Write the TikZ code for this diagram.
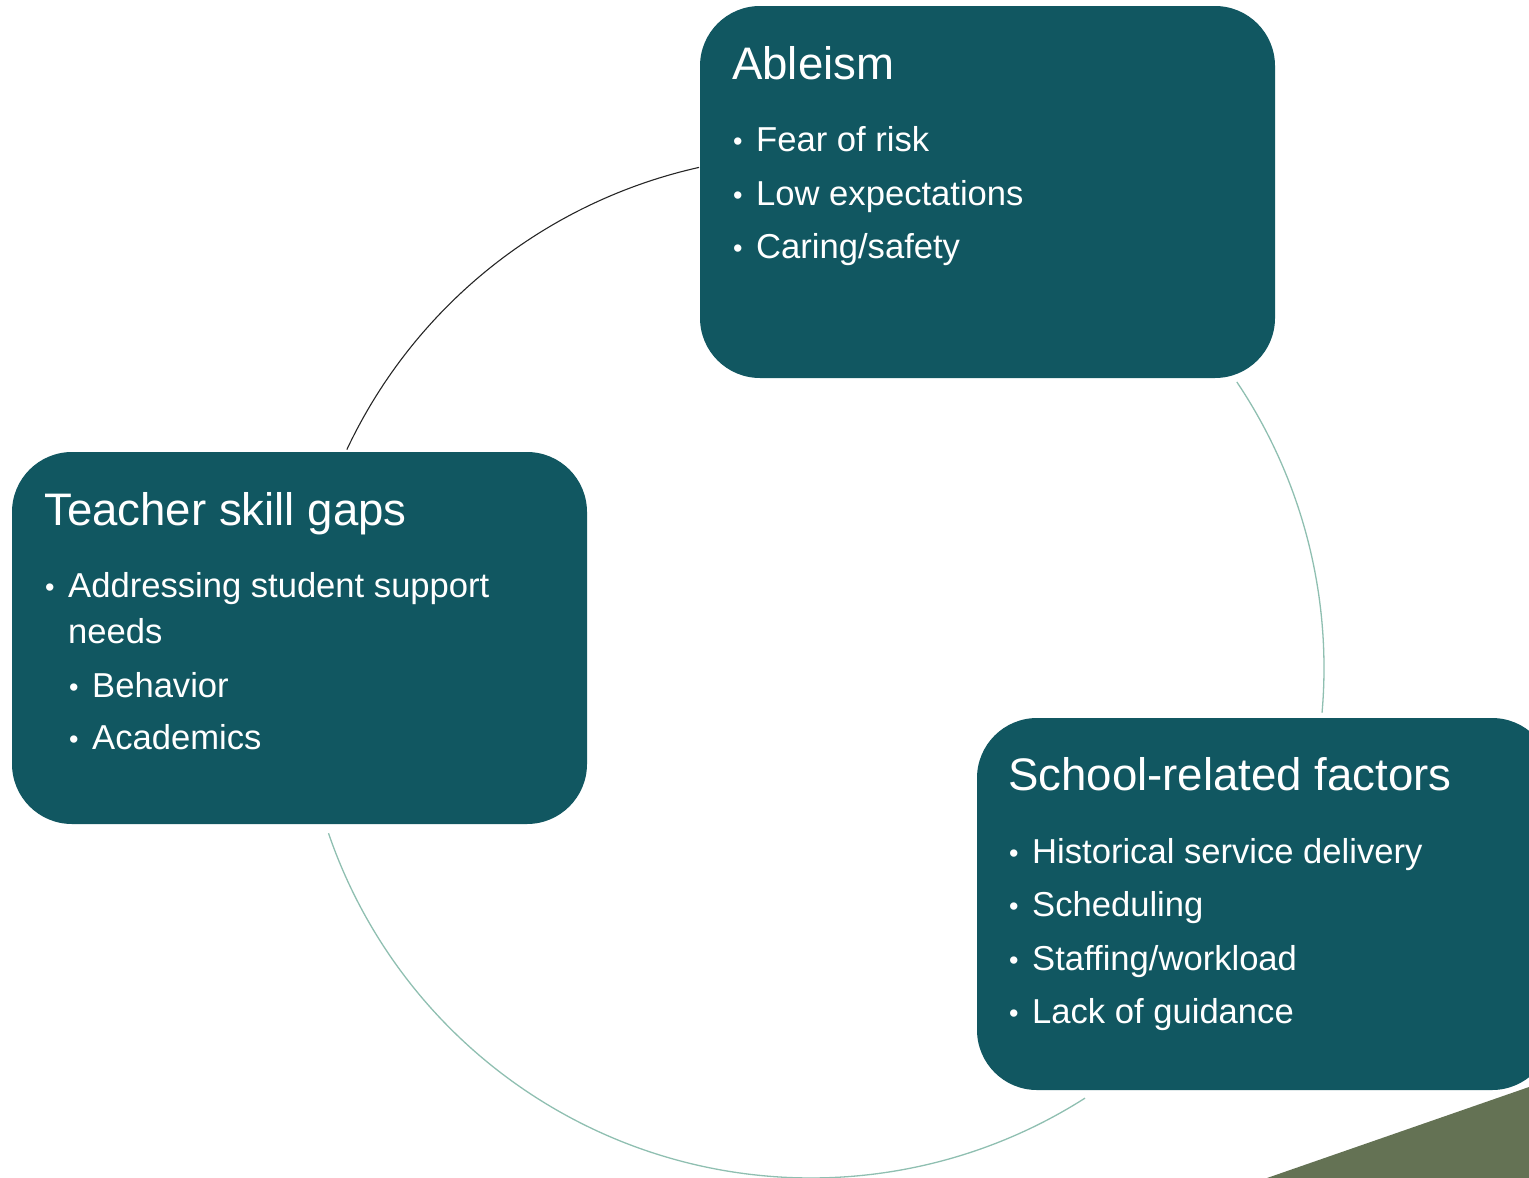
\documentclass[tikz,border=0pt]{standalone}
\usepackage{fontspec}
\setmainfont{Liberation Sans}
\definecolor{boxteal}{HTML}{115761}
\definecolor{ringgreen}{HTML}{8FBFB1}
\definecolor{wedgegreen}{HTML}{647254}

\tikzset{
  box/.style={fill=boxteal, rounded corners=60pt, minimum width=575pt,
    minimum height=372pt, inner sep=0pt},
  head/.style={anchor=base west, inner sep=0pt, text=white,
    font=\fontsize{45.6}{54}\selectfont},
  item/.style={anchor=base west, inner sep=0pt, text=white,
    font=\fontsize{34.6}{40}\selectfont},
  ring/.style={line width=1.3pt, draw=ringgreen},
}
\newcommand{\bul}[1]{\makebox[23pt][l]{\fontsize{27}{27}\selectfont\raisebox{1pt}{•}}#1}

\begin{document}
\begin{tikzpicture}[x=1pt,y=-1pt]
  \clip (0,0) rectangle (1529,1178);
  % corner wedge
  \fill[wedgegreen] (1267,1178) -- (1529,1087) -- (1529,1178) -- cycle;

  % boxes
  \node[box] (ableism) at (987.5,192) {};
  \node[box] (teacher) at (299.5,638) {};
  \node[box] (school) at (1264.5,904) {};

  % ring between boxes
  \coordinate (hub) at (811,668);
  \draw[ring,draw=black!85,line width=1.1pt]
    (hub) ++(154.8:513pt) arc[start angle=154.8,end angle=102.6,radius=513pt];
  \draw[ring]
    (hub) ++(33.9:513pt) arc[start angle=33.9,end angle=-5,radius=513pt];
  \draw[ring]
    (hub) ++(-57.5:510pt) arc[start angle=-57.5,end angle=-161.1,radius=510pt];

  % Ableism
  \node[head] (ableismT) at (732,79) {Ableism};
  \node[item] (ableism1) at (733,151.7) {\bul{Fear of risk}};
  \node[item] (ableism2) at (733,205.5) {\bul{Low expectations}};
  \node[item] (ableism3) at (733,258.5) {\bul{Caring/safety}};

  % Teacher skill gaps
  \node[head] (teacherT) at (44,525) {Teacher skill gaps};
  \node[item] (teacher1) at (45,597) {\bul{Addressing student support}};
  \node[item] (teacher1b) at (68,643) {needs};
  \node[item] (teacher2) at (69,697) {\bul{Behavior}};
  \node[item] (teacher3) at (69,749) {\bul{Academics}};

  % School-related factors
  \node[head] (schoolT) at (1008,790) {School-related factors};
  \node[item] (school1) at (1009,863) {\bul{Historical service delivery}};
  \node[item] (school2) at (1009,916.5) {\bul{Scheduling}};
  \node[item] (school3) at (1009,970) {\bul{Staffing/workload}};
  \node[item] (school4) at (1009,1023) {\bul{Lack of guidance}};
\end{tikzpicture}
\end{document}
